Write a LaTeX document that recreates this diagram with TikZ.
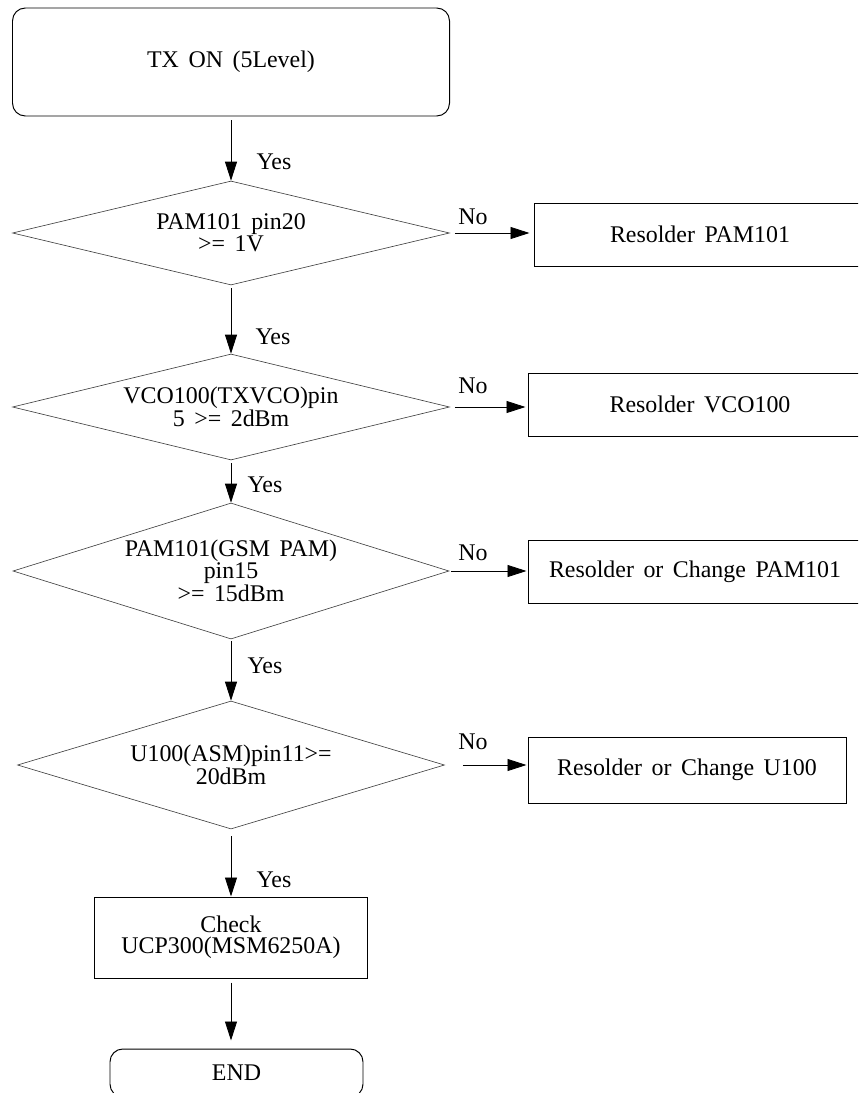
\documentclass[tikz,border=0pt]{standalone}
\usepackage{fontspec}
\setmainfont{Liberation Serif}[WordSpace=1.6]
\usetikzlibrary{shapes.geometric}
\usetikzlibrary{arrows.meta}

\begin{document}
\begin{tikzpicture}[x=0.25mm, y=-0.25mm,
    every node/.style={font=\fontsize{17}{14.6}\selectfont, align=center, inner sep=0pt},
    startbox/.style={draw, line width=0.7pt, rounded corners=3.2mm},
    testbox/.style={draw=black!75, line width=0.45pt, diamond, aspect=4},
    fixbox/.style={draw, line width=0.7pt, rectangle},
    flow/.style={-{Triangle[length=4.75mm, width=3mm]}, line width=0.6pt}]
  \useasboundingbox (0,0) rectangle (858,1093);
  \clip (0,0) rectangle (858,1093);
  % start
  \node[startbox, minimum width=109.25mm, minimum height=27mm] (txon) at (231,62) {TX ON (5Level)};
  % tests
  \node[testbox, minimum width=109.25mm, minimum height=26mm] (pam20) at (231,233)
    {PAM101 pin20\\>= 1V};
  \node[testbox, minimum width=109.25mm, minimum height=26.5mm] (vco) at (231,407)
    {VCO100(TXVCO)pin\\5 >= 2dBm};
  \node[testbox, aspect=3.3, minimum width=109mm, minimum height=34mm] (gsm) at (231,571)
    {PAM101(GSM PAM)\\pin15\\>= 15dBm};
  \node[testbox, minimum width=106.75mm, minimum height=32mm] (asm) at (231,765)
    {U100(ASM)pin11>=\\20dBm};
  % repairs
  \node[fixbox, minimum width=83mm, minimum height=15.75mm] (fix1) at (700,234.5) {Resolder PAM101};
  \node[fixbox, minimum width=86mm, minimum height=15.75mm] (fix2) at (700,404.5) {Resolder VCO100};
  \node[fixbox, minimum width=83.5mm, minimum height=15.75mm] (fix3) at (695,571.5) {Resolder or Change PAM101};
  \node[fixbox, minimum width=79.5mm, minimum height=16.5mm] (fix4) at (687,770) {Resolder or Change U100};
  % last steps
  \node[fixbox, minimum width=68.25mm, minimum height=20.25mm] (ucp) at (231,937.5)
    {Check\\UCP300(MSM6250A)};
  \node[startbox, minimum width=63.25mm, minimum height=12mm] (fin) at (236.5,1073) {END};
  % yes path
  \draw[flow, shorten <=1mm] (txon) -- (pam20);
  \draw[flow, shorten <=0.75mm] (pam20) -- (vco);
  \draw[flow, shorten <=0.75mm] (vco) -- (gsm);
  \draw[flow, shorten <=0.5mm] (gsm) -- (asm);
  \draw[flow, shorten <=1.75mm] (asm) -- (ucp);
  \draw[flow, shorten <=1mm, shorten >=2mm] (ucp) -- (ucp |- fin.north);
  \node (yes1) at (274,162) {Yes};
  \node (yes2) at (273,337) {Yes};
  \node (yes3) at (265,485) {Yes};
  \node (yes4) at (265,666) {Yes};
  \node (yes5) at (274,880) {Yes};
  % no path
  \draw[flow, shorten <=1.25mm, shorten >=1mm] (pam20.east) -- (pam20.east -| fix1.west);
  \draw[flow, shorten <=1.25mm, shorten >=0.5mm] (vco.east) -- (vco.east -| fix2.west);
  \draw[flow, shorten <=0.5mm, shorten >=0.25mm] (gsm.east) -- (gsm.east -| fix3.west);
  \draw[flow, shorten <=4.5mm, shorten >=0.25mm] (asm.east) -- (asm.east -| fix4.west);
  \node (no1) at (473,217) {No};
  \node (no2) at (473,386) {No};
  \node (no3) at (473,553) {No};
  \node (no4) at (473,742) {No};
\end{tikzpicture}
\end{document}
